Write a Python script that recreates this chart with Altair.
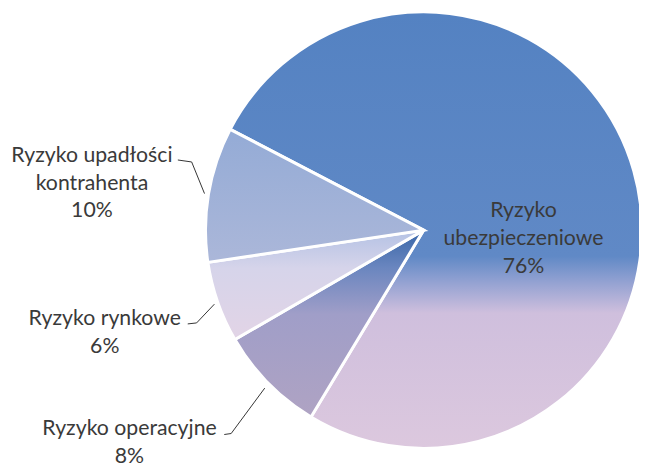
import math
import altair as alt
import pandas as pd

# ---- data ----
categories = ["Ryzyko ubezpieczeniowe", "Ryzyko operacyjne", "Ryzyko rynkowe",
              "Ryzyko upadłości kontrahenta"]
values = [76, 8, 6, 10]
labels = ["Ryzyko\nubezpieczeniowe\n76%", "Ryzyko operacyjne\n8%",
          "Ryzyko rynkowe\n6%", "Ryzyko upadłości\nkontrahenta\n10%"]

df = pd.DataFrame({"category": categories, "value": values, "label": labels})
df["end"] = df["value"].cumsum()
df["start"] = df["end"] - df["value"]

# ---- layout ----
W, H = 639, 460
CX, CY, R = 421, 222, 221
START = math.radians(297.5)
theta_scale = alt.Scale(domain=[0, 100], range=[START, START + 2 * math.pi])
FONT = "Lato"
TXT = "#3a3a3a"


def grad(stops):
    return {"gradient": "linear", "x1": 0, "y1": 0, "x2": 0, "y2": 1,
            "stops": [{"offset": o, "color": c} for o, c in stops]}


fills = {
    "Ryzyko ubezpieczeniowe": grad([(0, "#5482c2"), (0.56, "#6089c6"), (0.62, "#94a2d2"),
                                    (0.69, "#cfbfdd"), (1, "#dcc8de")]),
    "Ryzyko operacyjne": grad([(0, "#3866a8"), (0.2, "#6a86bf"), (0.45, "#a09ec8"),
                               (1, "#afa3c3")]),
    "Ryzyko rynkowe": grad([(0, "#b4c2e4"), (0.35, "#d6d4ea"), (1, "#e2d4e6")]),
    "Ryzyko upadłości kontrahenta": grad([(0, "#94abd6"), (1, "#abb7d9")]),
}

base = alt.Chart(df)

layers = []
for cat in categories:
    layers.append(
        base.transform_filter(alt.datum.category == cat)
        .mark_arc(radius=R, fill=fills[cat], stroke="white", strokeWidth=3)
        .encode(theta=alt.Theta("start:Q", scale=theta_scale),
                theta2="end:Q",
                x=alt.value(CX), y=alt.value(CY))
    )

# label anchors (chart coords: centre x, baseline of first line)
label_pos = {
    "Ryzyko ubezpieczeniowe": (522, 209),
    "Ryzyko operacyjne": (123, 430),
    "Ryzyko rynkowe": (98, 318),
    "Ryzyko upadłości kontrahenta": (85, 153),
}
for cat in categories:
    lx, ly = label_pos[cat]
    layers.append(
        base.transform_filter(alt.datum.category == cat)
        .mark_text(align="center", baseline="alphabetic", lineBreak="\n",
                   lineHeight=28, font=FONT, fontSize=21.5, color=TXT)
        .encode(text="label:N", x=alt.value(lx), y=alt.value(ly))
    )

# leader lines (chart coords)
leaders = [
    ((172, 151), (186, 153)), ((186, 153), (199, 185)),
    ((182, 317), (191, 316)), ((191, 316), (209, 297)),
    ((219, 429), (226, 428)), ((226, 428), (260, 382)),
]
for (x1, y1), (x2, y2) in leaders:
    layers.append(
        base.transform_filter(alt.datum.category == categories[0])
        .mark_rule(color="#333333", strokeWidth=1)
        .encode(x=alt.value(x1), y=alt.value(y1), x2=alt.value(x2), y2=alt.value(y2))
    )

chart = alt.layer(*layers).properties(
    width=W, height=H, padding=0, autosize=alt.AutoSizeParams(type="none"),
    background="white"
).configure_view(stroke=None)

chart.save("out.html", embed_options={"renderer": "svg", "actions": False})
